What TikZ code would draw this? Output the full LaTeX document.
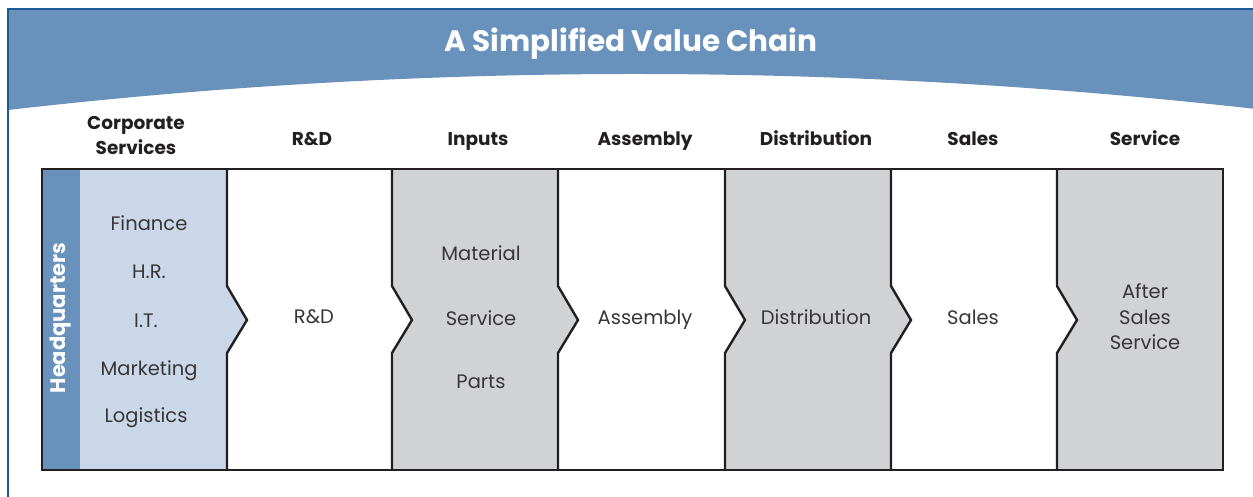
\documentclass[tikz,border=0pt]{standalone}
\usepackage{fontspec}
\setmainfont{Poppins}
\definecolor{hdrblue}{HTML}{6891BB}
\definecolor{frameblue}{HTML}{1B5C94}
\definecolor{lightblue}{HTML}{C9D7E8}
\definecolor{cellgray}{HTML}{D1D2D4}
\definecolor{ink}{HTML}{231F20}
\begin{document}
\begin{tikzpicture}[x=1pt,y=-1pt,
  hdr/.style={font=\bfseries\fontsize{18.5}{25}\selectfont, text=ink, align=center, inner sep=0pt, anchor=base},
  body/.style={font=\fontsize{19.5}{25}\selectfont, text=ink!90, align=center, inner sep=0pt, anchor=base},
  colline/.style={draw=ink, line width=2.4pt, line join=miter}]
\useasboundingbox (0,0) rectangle (1253,496);
% header band
\fill[hdrblue] (8,9) -- (1256,9) -- (1256,109) .. controls (837.7,62) and (422.7,62.3) .. (8,110) -- cycle;
\draw[frameblue, line width=2.5pt] (8,500) -- (8,9) -- (1258,9);
\node[font=\bfseries\fontsize{29.5}{34}\selectfont, text=white, inner sep=0pt, anchor=base] (title) at (631,51) {A Simplified Value Chain};
% column headers
\node[hdr] (h1a) at (136,129) {Corporate};
\node[hdr] (h1b) at (136,154) {Services};
\node[hdr] (h2) at (312,145) {R\&D};
\node[hdr] (h3) at (478,145) {Inputs};
\node[hdr] (h4) at (645,145) {Assembly};
\node[hdr] (h5) at (816,145) {Distribution};
\node[hdr] (h6) at (973,145) {Sales};
\node[hdr] (h7) at (1145,145) {Service};
% headquarters strip and corporate column
\fill[hdrblue] (42,169) rectangle (80,470);
\fill[lightblue] (80,169) -- (227,169) -- (227,286) -- (247,320) -- (227,353) -- (227,470) -- (80,470) -- cycle;
% value chain columns
\foreach \xl/\xr/\c in {227/392/white, 392/558/cellgray, 558/725/white, 725/891/cellgray, 891/1057/white}{
  \fill[\c] (\xl,169) -- (\xr,169) -- (\xr,286) -- ({\xr+20},320) -- (\xr,353) -- (\xr,470) -- (\xl,470) -- (\xl,353) -- ({\xl+20},320) -- (\xl,286) -- cycle;
}
\fill[cellgray] (1057,169) -- (1223,169) -- (1223,470) -- (1057,470) -- (1057,353) -- (1077,320) -- (1057,286) -- cycle;
\foreach \xb in {227,392,558,725,891,1057}{
  \draw[colline] (\xb,169) -- (\xb,286) -- ({\xb+20},320) -- (\xb,353) -- (\xb,470);
}
\draw[colline] (42,169) rectangle (1223,470);
% texts
\node[font=\bfseries\fontsize{21}{25}\selectfont, text=white, rotate=90, inner sep=0pt] (hq) at (61,318) {Headquarters};
\node[body] (fin) at (149,230) {Finance};
\node[body] (hr) at (149,278) {H.R.};
\node[body] (it) at (146,327) {I.T.};
\node[body] (mkt) at (149,375) {Marketing};
\node[body] (log) at (146,422) {Logistics};
\node[body] (rd) at (314,323) {R\&D};
\node[body] (mat) at (481,260) {Material};
\node[body] (srv) at (481,325) {Service};
\node[body] (prt) at (481,388) {Parts};
\node[body] (asm) at (645,324) {Assembly};
\node[body] (dst) at (816,324) {Distribution};
\node[body] (sls) at (973,324) {Sales};
\node[body] (as1) at (1145,298) {After};
\node[body] (as2) at (1145,324) {Sales};
\node[body] (as3) at (1145,349) {Service};
\end{tikzpicture}
\end{document}
